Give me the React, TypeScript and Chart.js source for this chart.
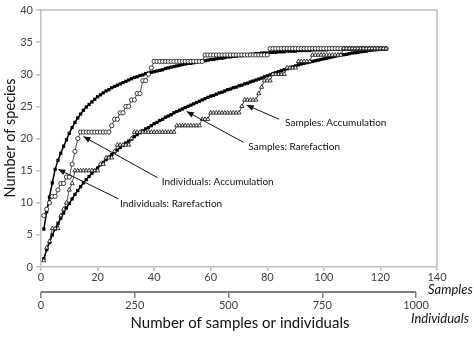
import React, { useEffect, useRef } from 'react';
import { Chart, registerables } from 'chart.js';
Chart.register(...registerables);

// sample index (1..122); the individuals curves use the same spacing (mean individuals per sample)
const sampleIndex: number[] = Array.from({ length: 122 }, (_, i) => i + 1);

const indRarefaction: number[] = [
  5.9, 8.6, 10.9, 13.1, 15.2, 16.6, 17.7, 18.8, 19.8, 20.8,
  21.7, 22.5, 23.2, 23.8, 24.4, 24.9, 25.3, 25.7, 26.1, 26.5,
  26.8, 27.1, 27.4, 27.6, 27.9, 28.1, 28.3, 28.5, 28.7, 28.9,
  29.1, 29.3, 29.5, 29.6, 29.8, 29.9, 30.1, 30.2, 30.3, 30.4,
  30.5, 30.6, 30.7, 30.9, 31.0, 31.1, 31.2, 31.3, 31.4, 31.5,
  31.6, 31.7, 31.7, 31.8, 31.9, 32.0, 32.1, 32.1, 32.2, 32.3,
  32.3, 32.4, 32.5, 32.5, 32.6, 32.7, 32.7, 32.8, 32.8, 32.9,
  32.9, 33.0, 33.0, 33.1, 33.1, 33.2, 33.2, 33.3, 33.3, 33.3,
  33.4, 33.4, 33.4, 33.5, 33.5, 33.5, 33.6, 33.6, 33.6, 33.6,
  33.7, 33.7, 33.7, 33.7, 33.7, 33.8, 33.8, 33.8, 33.8, 33.8,
  33.8, 33.9, 33.9, 33.9, 33.9, 33.9, 33.9, 33.9, 33.9, 33.9,
  34, 34, 34, 34, 34, 34, 34, 34, 34, 34, 34, 34,
];

const sampleRarefaction: number[] = [
  1.3, 2.7, 3.8, 5.0, 5.9, 6.8, 7.6, 8.4, 9.2, 9.9,
  10.6, 11.3, 11.9, 12.5, 13.1, 13.6, 14.1, 14.6, 15.0, 15.4,
  15.9, 16.3, 16.7, 17.1, 17.5, 17.9, 18.2, 18.6, 18.9, 19.3,
  19.6, 19.9, 20.3, 20.6, 20.9, 21.2, 21.5, 21.7, 22.0, 22.3,
  22.5, 22.8, 23.0, 23.3, 23.5, 23.7, 24.0, 24.2, 24.4, 24.6,
  24.8, 25.0, 25.2, 25.4, 25.6, 25.8, 26.0, 26.2, 26.4, 26.6,
  26.7, 26.9, 27.1, 27.2, 27.4, 27.6, 27.7, 27.9, 28.0, 28.2,
  28.3, 28.5, 28.6, 28.8, 28.95, 29.1, 29.25, 29.4, 29.6, 29.75,
  29.9, 30.1, 30.25, 30.4, 30.55, 30.7, 30.85, 31.0, 31.15, 31.3,
  31.45, 31.6, 31.7, 31.8, 31.9, 32.0, 32.1, 32.2, 32.3, 32.4,
  32.5, 32.6, 32.7, 32.8, 32.9, 33.0, 33.05, 33.1, 33.2, 33.3,
  33.35, 33.4, 33.5, 33.55, 33.6, 33.7, 33.75, 33.8, 33.85, 33.9,
  33.95, 34.0,
];

const indAccumulation: number[] = [
  8, 9, 10, 11, 11, 12, 13, 13, 14, 14,
  16, 18, 20, 21, 21, 21, 21, 21, 21, 21,
  21, 21, 21, 21, 22, 23, 23, 24, 24, 25,
  25, 26, 26, 27, 27, 29, 29, 30, 31, 32,
  32, 32, 32, 32, 32, 32, 32, 32, 32, 32,
  32, 32, 32, 32, 32, 32, 32, 33, 33, 33,
  33, 33, 33, 33, 33, 33, 33, 33, 33, 33,
  33, 33, 33, 33, 33, 33, 33, 33, 33, 33,
  34, 34, 34, 34, 34, 34, 34, 34, 34, 34,
  34, 34, 34, 34, 34, 34, 34, 34, 34, 34,
  34, 34, 34, 34, 34, 34, 34, 34, 34, 34,
  34, 34, 34, 34, 34, 34, 34, 34, 34, 34,
  34, 34,
];

const sampleAccumulation: number[] = [
  1, 3, 4, 6, 6, 6, 8, 9, 10, 12,
  13, 15, 15, 15, 15, 15, 15, 15, 15, 15,
  16, 16, 17, 17, 17, 18, 19, 19, 19, 19,
  19, 20, 21, 21, 21, 21, 21, 21, 21, 21,
  21, 21, 21, 21, 21, 21, 21, 22, 22, 22,
  22, 22, 22, 22, 22, 22, 23, 23, 23, 24,
  24, 24, 24, 24, 24, 24, 24, 24, 24, 24,
  25, 26, 26, 26, 26, 26, 27, 28, 29, 29,
  29, 30, 30, 30, 30, 30, 31, 31, 31, 31,
  32, 32, 32, 32, 32, 33, 33, 33, 33, 33,
  33, 33, 33, 33, 33, 33, 34, 34, 34, 34,
  34, 34, 34, 34, 34, 34, 34, 34, 34, 34,
  34, 34,
];

const yTickMax = 40;
const sampleTickMax = 140;
const individualTicks: number[] = [0, 250, 500, 750, 1000];
const individualAxisMax = 1056; // individuals equivalent of 140 samples

// annotation: [text, textX, textY, arrowFromX, arrowFromY, tipX, tipY] in (samples, species) units
const annotations: [string, number, number, number, number, number, number][] = [
  ['Samples: Accumulation', 86.3, 22.4, 84.2, 23.0, 72.7, 25.2],
  ['Samples: Rarefaction', 73.3, 18.7, 71.6, 19.4, 51.5, 24.2],
  ['Individuals: Accumulation', 42.7, 13.3, 41.2, 13.9, 15.0, 20.3],
  ['Individuals: Rarefaction', 27.9, 9.8, 27.4, 10.6, 6.1, 15.2],
];

const FONT = 'Lato, "Open Sans", sans-serif';

const decorPlugin = {
  id: 'decor',
  afterDraw(chart: any) {
    const ctx = chart.ctx as CanvasRenderingContext2D;
    const ca = chart.chartArea;
    const xs = chart.scales.x;
    const x2 = chart.scales.x2;
    const ys = chart.scales.y;
    ctx.save();
    // top & right frame
    ctx.strokeStyle = '#c0c0c0';
    ctx.lineWidth = 1.5;
    ctx.beginPath();
    ctx.moveTo(ca.left, ca.top);
    ctx.lineTo(ca.right, ca.top);
    ctx.lineTo(ca.right, ca.bottom);
    ctx.stroke();
    // individuals axis line
    ctx.strokeStyle = '#7f7f7f';
    ctx.lineWidth = 2;
    ctx.beginPath();
    ctx.moveTo(x2.getPixelForValue(0), x2.top);
    ctx.lineTo(x2.getPixelForValue(individualTicks[individualTicks.length - 1]), x2.top);
    ctx.stroke();

    // axis unit labels
    ctx.fillStyle = '#111';
    ctx.textBaseline = 'middle';
    ctx.textAlign = 'left';
    ctx.font = `italic 13px ${FONT}`;
    ctx.fillText('Samples', 428, 290);
    ctx.fillText('Individuals', 411, 319);

    // axis titles
    ctx.font = `15px ${FONT}`;
    ctx.textAlign = 'center';
    ctx.fillText('Number of samples or individuals', 240, 323);
    ctx.font = `14.5px ${FONT}`;
    ctx.save();
    ctx.translate(10, 138);
    ctx.rotate(-Math.PI / 2);
    ctx.fillText('Number of species', 0, 0);
    ctx.restore();

    // annotations
    ctx.font = `10px ${FONT}`;
    ctx.textAlign = 'left';
    ctx.strokeStyle = '#111';
    ctx.lineWidth = 1;
    for (const a of annotations) {
      const [label, tx, ty, fx, fy, px, py] = a;
      ctx.fillText(label, xs.getPixelForValue(tx), ys.getPixelForValue(ty));
      const x1 = xs.getPixelForValue(fx), y1 = ys.getPixelForValue(fy);
      const x2p = xs.getPixelForValue(px), y2p = ys.getPixelForValue(py);
      ctx.beginPath();
      ctx.moveTo(x1, y1);
      ctx.lineTo(x2p, y2p);
      ctx.stroke();
      const ang = Math.atan2(y2p - y1, x2p - x1);
      const L = 7, W = 3;
      ctx.beginPath();
      ctx.moveTo(x2p, y2p);
      ctx.lineTo(x2p - L * Math.cos(ang) + W * Math.sin(ang), y2p - L * Math.sin(ang) - W * Math.cos(ang));
      ctx.lineTo(x2p - L * Math.cos(ang) - W * Math.sin(ang), y2p - L * Math.sin(ang) + W * Math.cos(ang));
      ctx.closePath();
      ctx.fill();
    }
    ctx.restore();
  },
};

export default function App() {
  const ref = useRef<HTMLCanvasElement | null>(null);
  useEffect(() => {
    document.body.style.margin = '0';
    const canvas = ref.current;
    if (!canvas) return;
    const pts = (vals: number[]) => sampleIndex.map((s, i) => ({ x: s, y: vals[i] }));
    const chart = new Chart(canvas, {
      type: 'line',
      data: {
        datasets: [
          {
            label: 'Samples: Accumulation',
            data: pts(sampleAccumulation),
            borderColor: '#222',
            borderWidth: 0.8,
            pointStyle: 'triangle',
            pointRadius: 2.4,
            pointBackgroundColor: '#fff',
            pointBorderColor: '#111',
            pointBorderWidth: 0.8,
          },
          {
            label: 'Individuals: Accumulation',
            data: pts(indAccumulation),
            borderColor: '#222',
            borderWidth: 0.8,
            pointStyle: 'circle',
            pointRadius: 2.1,
            pointBackgroundColor: '#fff',
            pointBorderColor: '#111',
            pointBorderWidth: 0.8,
          },
          {
            label: 'Samples: Rarefaction',
            data: pts(sampleRarefaction),
            borderColor: '#000',
            borderWidth: 1.5,
            pointStyle: 'rect',
            pointRadius: 2.3,
            pointBackgroundColor: '#000',
            pointBorderColor: '#000',
            pointBorderWidth: 0,
          },
          {
            label: 'Individuals: Rarefaction',
            data: pts(indRarefaction),
            borderColor: '#000',
            borderWidth: 1.5,
            pointStyle: 'rect',
            pointRadius: 2.3,
            pointBackgroundColor: '#000',
            pointBorderColor: '#000',
            pointBorderWidth: 0,
          },
        ],
      },
      options: {
        animation: false,
        responsive: false,
        devicePixelRatio: 1,
        layout: { padding: { top: 10, right: 37, left: 0, bottom: 0 } },
        plugins: { legend: { display: false }, tooltip: { enabled: false } },
        elements: { line: { tension: 0 } },
        scales: {
          x: {
            type: 'linear',
            position: 'bottom',
            min: 0,
            max: sampleTickMax,
            weight: 0,
            ticks: { stepSize: 20, color: '#404040', font: { family: FONT, size: 11 }, padding: 0, maxRotation: 0 },
            grid: { drawOnChartArea: false, drawTicks: true, tickLength: 4, color: '#c0c0c0', lineWidth: 1.5 },
            border: { display: true, color: '#c0c0c0', width: 1.5 },
            afterFit: (s: any) => { s.height = 25; },
          },
          x2: {
            type: 'linear',
            position: 'bottom',
            min: 0,
            max: individualAxisMax,
            weight: 1,
            afterBuildTicks: (s: any) => { s.ticks = individualTicks.map((v) => ({ value: v })); },
            ticks: {
              color: '#404040',
              font: { family: FONT, size: 11 },
              padding: 1,
              maxRotation: 0,
              autoSkip: false,
              callback: (v: any) => String(v),
            },
            grid: { drawOnChartArea: false, drawTicks: true, tickLength: 6, color: '#7f7f7f', lineWidth: 1.5 },
            border: { display: false },
            afterFit: (s: any) => { s.height = 64; },
          },
          y: {
            type: 'linear',
            min: 0,
            max: yTickMax,
            ticks: { stepSize: 5, color: '#404040', font: { family: FONT, size: 11 }, padding: 3 },
            grid: { drawOnChartArea: false, drawTicks: true, tickLength: 5, color: '#c0c0c0', lineWidth: 1.5 },
            border: { display: true, color: '#c0c0c0', width: 1.5 },
            afterFit: (s: any) => { s.width = 41; },
          },
        },
      },
      plugins: [decorPlugin],
    } as any);
    return () => chart.destroy();
  }, []);
  return <canvas ref={ref} width={474} height={356} style={{ display: 'block' }} />;
}
